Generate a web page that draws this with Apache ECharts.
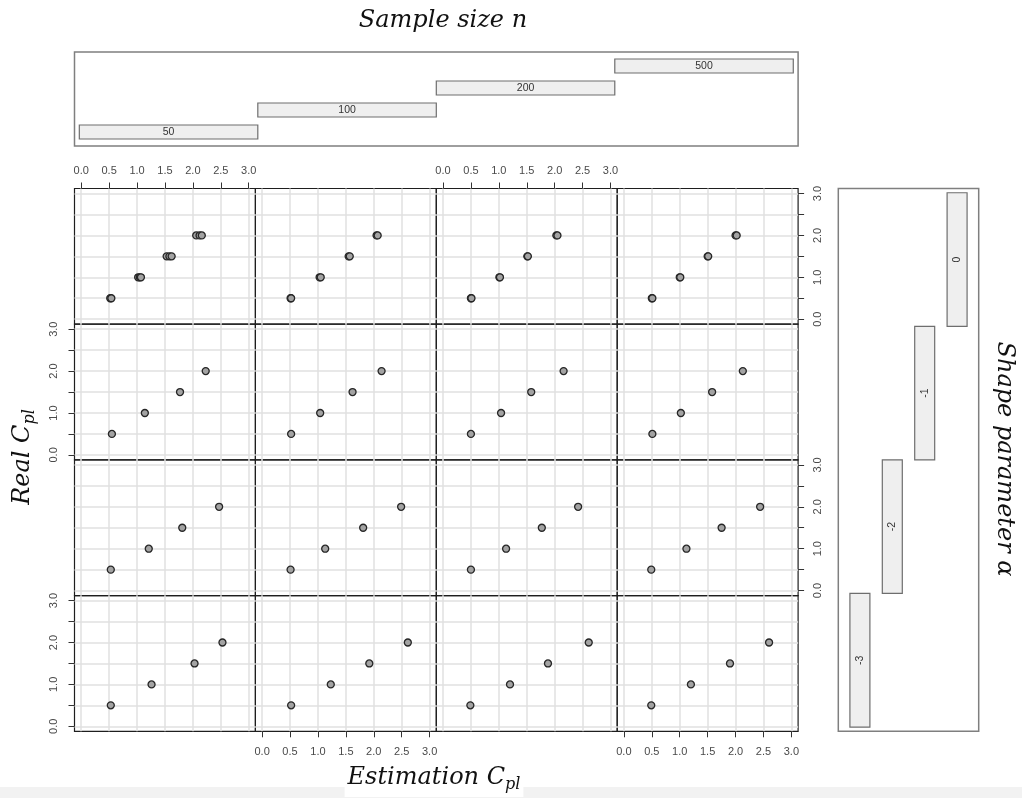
<!DOCTYPE html>
<html>
<head>
<meta charset="utf-8">
<script src="https://cdn.jsdelivr.net/npm/echarts@6/dist/echarts.min.js"></script>
<style>
  html, body { margin: 0; padding: 0; background: #ffffff; }
  #main { width: 1022px; height: 798px; }
</style>
</head>
<body>
<div id="main"></div>
<script>
// Conditioning variables: columns are sample sizes, rows are shape parameters
const sampleSizes = [50, 100, 200, 500];
const shapeParams = [-3, -2, -1, 0];
// True process capability index levels (y values in every panel)
const realCpl = [0.5, 1.0, 1.5, 2.0];
// Axis ticks and labels
const tickValues = [0, 0.5, 1.0, 1.5, 2.0, 2.5, 3.0];
const yLabelValues = [0, 1.0, 2.0, 3.0];

// Estimated Cpl, one row per sample size (50, 100, 200, 500), ordered like realCpl
const estAlphaM3 = [
  [0.53, 1.26, 2.03, 2.53],
  [0.52, 1.23, 1.92, 2.61],
  [0.49, 1.20, 1.88, 2.61],
  [0.49, 1.20, 1.90, 2.60]
];
const estAlphaM2 = [
  [0.53, 1.21, 1.81, 2.47],
  [0.51, 1.13, 1.81, 2.49],
  [0.50, 1.13, 1.77, 2.42],
  [0.49, 1.12, 1.75, 2.44]
];
const estAlphaM1 = [
  [0.55, 1.14, 1.77, 2.23],
  [0.52, 1.04, 1.62, 2.14],
  [0.50, 1.04, 1.58, 2.16],
  [0.51, 1.02, 1.58, 2.13]
];
// Shape 0: several replicate estimates per level
const estAlpha0 = [
  [[0.52, 0.54], [1.02, 1.05, 1.07], [1.53, 1.58, 1.62], [2.06, 2.12, 2.16]],
  [[0.51, 0.52], [1.03, 1.05], [1.55, 1.57], [2.05, 2.07]],
  [[0.50, 0.51], [1.01, 1.02], [1.51, 1.52], [2.03, 2.05]],
  [[0.50, 0.51], [1.00, 1.01], [1.50, 1.51], [2.00, 2.02]]
];

// Panel rows from top to bottom: shape 0, -1, -2, -3
const rowEstimates = [estAlpha0, estAlphaM1, estAlphaM2, estAlphaM3];

const chart = echarts.init(document.getElementById('main'), null, { width: 1022, height: 798 });

const PANEL_LEFT = 74.5, PANEL_W = 180.9, PANEL_TOP = 188.5, PANEL_H = 135.7;
const AX_MIN = -0.12, AX_MAX = 3.12;
const labelFont = { fontFamily: 'Liberation Sans', fontSize: 11, color: '#4a4a4a' };
const gridLine = { show: true, lineStyle: { color: '#e0e0e0', width: 1.5 } };

const grids = [], xAxes = [], yAxes = [], series = [];

for (let r = 0; r < 4; r++) {
  for (let c = 0; c < 4; c++) {
    const idx = grids.length;
    grids.push({
      left: PANEL_LEFT + c * PANEL_W, top: PANEL_TOP + r * PANEL_H,
      width: PANEL_W, height: PANEL_H,
      show: true, borderColor: '#1e1e1e', borderWidth: 1.2, backgroundColor: 'transparent'
    });
    const xTop = r === 0 && c % 2 === 0;
    const xBottom = r === 3 && c % 2 === 1;
    const xShow = xTop || xBottom;
    xAxes.push({
      type: 'value', gridIndex: idx, min: AX_MIN, max: AX_MAX,
      position: xBottom ? 'bottom' : 'top',
      axisLine: { show: false, onZero: false },
      axisTick: { show: xShow, length: 6, customValues: tickValues, lineStyle: { color: '#333', width: 1 } },
      axisLabel: Object.assign({ show: xShow, customValues: tickValues, margin: xBottom ? 15 : 12,
        formatter: v => v.toFixed(1) }, labelFont),
      splitLine: gridLine
    });
    const yLeft = c === 0 && r % 2 === 1;
    const yRight = c === 3 && r % 2 === 0;
    const yShow = yLeft || yRight;
    yAxes.push({
      type: 'value', gridIndex: idx, min: AX_MIN, max: AX_MAX,
      position: yRight ? 'right' : 'left',
      axisLine: { show: false, onZero: false },
      axisTick: { show: yShow, length: 6, customValues: tickValues, lineStyle: { color: '#333', width: 1 } },
      axisLabel: Object.assign({ show: yShow, customValues: yLabelValues, rotate: 90, margin: yLeft ? 15 : 14,
        formatter: v => v.toFixed(1) }, labelFont),
      splitLine: gridLine
    });
    const points = [];
    rowEstimates[r][c].forEach((est, k) => {
      const vals = Array.isArray(est) ? est : [est];
      vals.forEach(v => points.push([v, realCpl[k]]));
    });
    series.push({
      type: 'scatter', xAxisIndex: idx, yAxisIndex: idx, data: points,
      symbol: 'circle', symbolSize: 7, silent: true,
      itemStyle: { color: '#a3a3a3', borderColor: '#262626', borderWidth: 1.3, opacity: 1 }
    });
  }
}

// Conditioning panel for sample size (top)
const topIdx = grids.length;
grids.push({ left: PANEL_LEFT, top: 52, width: 4 * PANEL_W, height: 94,
  show: true, borderColor: '#7f7f7f', borderWidth: 1.5, backgroundColor: 'transparent' });
xAxes.push({ type: 'value', gridIndex: topIdx, min: -0.027, max: 4.027, show: false });
yAxes.push({ type: 'value', gridIndex: topIdx, min: -0.636, max: 3.636, show: false });
series.push({
  type: 'custom', xAxisIndex: topIdx, yAxisIndex: topIdx, silent: true,
  data: sampleSizes.map((n, i) => [i, n]),
  renderItem: (params, api) => {
    const i = api.value(0);
    const a = api.coord([i, i]);
    const b = api.coord([i + 1, i]);
    const h = api.size([0, 0.636])[1];
    return {
      type: 'group', children: [
        { type: 'rect', shape: { x: a[0], y: a[1] - h / 2, width: b[0] - a[0], height: h },
          style: { fill: '#efefef', stroke: '#6e6e6e', lineWidth: 1.2 } },
        { type: 'text', x: (a[0] + b[0]) / 2, y: a[1],
          style: { text: String(api.value(1)), x: 0, y: 0, align: 'center', verticalAlign: 'middle',
            fontFamily: 'Liberation Sans', fontSize: 10.5, fill: '#333' } }
      ]
    };
  }
});

// Conditioning panel for shape parameter (right)
const rightIdx = grids.length;
grids.push({ left: 838.3, top: PANEL_TOP, width: 140.4, height: 4 * PANEL_H,
  show: true, borderColor: '#7f7f7f', borderWidth: 1.5, backgroundColor: 'transparent' });
xAxes.push({ type: 'value', gridIndex: rightIdx, min: -0.667, max: 3.667, show: false });
yAxes.push({ type: 'value', gridIndex: rightIdx, min: -0.032, max: 4.032, show: false });
series.push({
  type: 'custom', xAxisIndex: rightIdx, yAxisIndex: rightIdx, silent: true,
  data: shapeParams.map((s, i) => [i, s]),
  renderItem: (params, api) => {
    const i = api.value(0);
    const a = api.coord([i, i]);
    const b = api.coord([i, i + 1]);
    const w = api.size([0.617, 0])[0];
    return {
      type: 'group', children: [
        { type: 'rect', shape: { x: a[0] - w / 2, y: b[1], width: w, height: a[1] - b[1] },
          style: { fill: '#efefef', stroke: '#6e6e6e', lineWidth: 1.2 } },
        { type: 'text', x: a[0], y: (a[1] + b[1]) / 2, rotation: Math.PI / 2,
          style: { text: String(api.value(1)), x: 0, y: 0, align: 'center', verticalAlign: 'middle',
            fontFamily: 'Liberation Sans', fontSize: 10.5, fill: '#333' } }
      ]
    };
  }
});

const serif = { fontFamily: 'DejaVu Serif', fontStyle: 'italic', fill: '#111' };
const titleRich = {
  m: Object.assign({ fontSize: 24, lineHeight: 30 }, serif, { color: '#111' }),
  s: Object.assign({ fontSize: 16, lineHeight: 16, verticalAlign: 'bottom' }, serif, { color: '#111' })
};

chart.setOption({
  animation: false,
  backgroundColor: '#ffffff',
  grid: grids, xAxis: xAxes, yAxis: yAxes, series: series,
  graphic: [
    { type: 'rect', z: -10, shape: { x: 0, y: 787, width: 1022, height: 11 }, style: { fill: '#f2f2f2' }, silent: true },
    { type: 'text', x: 443, y: 21, silent: true,
      style: Object.assign({ text: 'Sample size n', fontSize: 24, align: 'center', verticalAlign: 'middle' }, serif) },
    { type: 'text', x: 434, y: 779, silent: true,
      style: { text: '{m|Estimation C}{s|pl}', rich: titleRich, align: 'center', verticalAlign: 'middle',
        backgroundColor: '#ffffff', padding: [2, 3, 4, 3] } },
    { type: 'text', x: 23, y: 457, rotation: Math.PI / 2, silent: true,
      style: { text: '{m|Real C}{s|pl}', rich: titleRich, align: 'center', verticalAlign: 'middle' } },
    { type: 'text', x: 1004, y: 459, rotation: -Math.PI / 2, silent: true,
      style: Object.assign({ text: 'Shape parameter α', fontSize: 24, align: 'center', verticalAlign: 'middle' }, serif) }
  ]
});
</script>
</body>
</html>
